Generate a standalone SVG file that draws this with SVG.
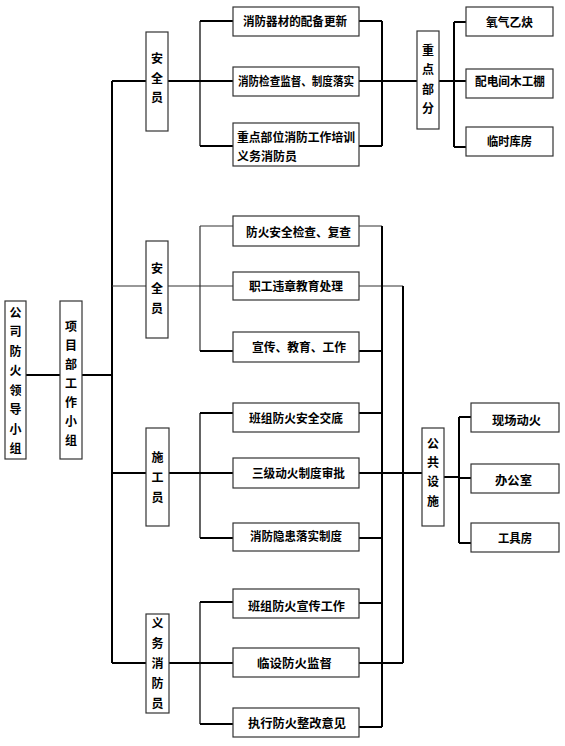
<svg xmlns="http://www.w3.org/2000/svg" width="565" height="746" viewBox="0 0 565 746">
<style>
.bx{fill:#fff;stroke:#333;stroke-width:1.2}
.tk{stroke:#000;stroke-width:2;fill:none}
.tn{stroke:#333;stroke-width:1.2;fill:none}
.tv{stroke:#111;stroke-width:1.3;fill:none}
text{font-family:"Noto Sans CJK SC","Noto Sans CJK JP",sans-serif;font-size:12px;font-weight:bold;fill:#000}
.c{text-anchor:middle}
</style>
<rect width="565" height="746" fill="#fff"/>
<g id="connectors">
<path class="tk" d="M26 375H60M82 375H112M112 81V663M112 81H146"/>
<path class="tn" d="M112 286H146M168 286H200"/>
<path class="tk" d="M112 473H146M169 473H200M112 663H146M169 663H233"/>
<path class="tv" d="M200 21V146M200 413V538M200 602V724"/>
<path class="tk" d="M168 81H233M200 21H233M200 146H233M359 21H382M359 146H382M382 21V146M359 81H417M439 81H454M454 22V147M454 22H466M454 81H466M454 147H466"/>
<path class="tn" d="M200 226V351M200 226H233M200 286H233M359 226H382M359 286H403"/>
<path class="tk" d="M200 351H233M359 351H382"/>
<path class="tk" d="M382 226V727M403 286V663"/>
<path class="tk" d="M200 413H233M200 473H233M200 538H233M359 413H382M359 538H382M359 473H422M444 477H459M459 417V543M459 417H471M459 478H471M459 543H471"/>
<path class="tk" d="M200 602H233M200 724H233M359 603H382M359 663H403M359 727H382"/>
</g>
<g id="n-company"><rect class="bx" x="5" y="301" width="21" height="158"/>
<text class="c"><tspan x="15.5" y="316.5">公</tspan><tspan x="15.5" y="336">司</tspan><tspan x="15.5" y="355.5">防</tspan><tspan x="15.5" y="375">火</tspan><tspan x="15.5" y="394.5">领</tspan><tspan x="15.5" y="414">导</tspan><tspan x="15.5" y="433.5">小</tspan><tspan x="15.5" y="453">组</tspan></text></g>
<g id="n-project"><rect class="bx" x="60" y="301" width="22" height="158"/>
<text class="c"><tspan x="71" y="330.5">项</tspan><tspan x="71" y="349.5">目</tspan><tspan x="71" y="368.5">部</tspan><tspan x="71" y="387.5">工</tspan><tspan x="71" y="406.5">作</tspan><tspan x="71" y="425.5">小</tspan><tspan x="71" y="444.5">组</tspan></text></g>
<g id="n-safety1"><rect class="bx" x="146" y="32" width="22" height="99"/>
<text class="c"><tspan x="157" y="62.5">安</tspan><tspan x="157" y="82.5">全</tspan><tspan x="157" y="102">员</tspan></text></g>
<g id="n-safety2"><rect class="bx" x="146" y="241" width="22" height="97"/>
<text class="c"><tspan x="157" y="272.5">安</tspan><tspan x="157" y="292.5">全</tspan><tspan x="157" y="312.5">员</tspan></text></g>
<g id="n-construct"><rect class="bx" x="146" y="428" width="23" height="98"/>
<text class="c"><tspan x="157.5" y="461.5">施</tspan><tspan x="157.5" y="481.5">工</tspan><tspan x="157.5" y="501.5">员</tspan></text></g>
<g id="n-volunteer"><rect class="bx" x="146" y="614" width="23" height="99"/>
<text class="c"><tspan x="157.5" y="627.5">义</tspan><tspan x="157.5" y="647.5">务</tspan><tspan x="157.5" y="667.5">消</tspan><tspan x="157.5" y="687.5">防</tspan><tspan x="157.5" y="707.5">员</tspan></text></g>
<g id="n-key"><rect class="bx" x="417" y="31" width="22" height="98"/>
<text class="c"><tspan x="428" y="54.5">重</tspan><tspan x="428" y="74">点</tspan><tspan x="428" y="93.5">部</tspan><tspan x="428" y="113">分</tspan></text></g>
<g id="n-public"><rect class="bx" x="422" y="428" width="22" height="98"/>
<text class="c"><tspan x="433" y="447.5">公</tspan><tspan x="433" y="466.5">共</tspan><tspan x="433" y="485.5">设</tspan><tspan x="433" y="505.5">施</tspan></text></g>
<g id="n-a1"><rect class="bx" x="233" y="7" width="126" height="29"/><text x="243" y="25.5" textLength="104" lengthAdjust="spacingAndGlyphs">消防器材的配备更新</text></g>
<g id="n-a2"><rect class="bx" x="233" y="67" width="126" height="29"/><text x="238" y="85.5" textLength="116" lengthAdjust="spacingAndGlyphs">消防检查监督、制度落实</text></g>
<g id="n-a3"><rect class="bx" x="233" y="123" width="126" height="43"/><text x="237" y="141.5" textLength="118" lengthAdjust="spacingAndGlyphs">重点部位消防工作培训</text><text x="237" y="160.5" textLength="60" lengthAdjust="spacingAndGlyphs">义务消防员</text></g>
<g id="n-k1"><rect class="bx" x="466" y="7" width="87" height="29"/><text x="486" y="26.5" textLength="47" lengthAdjust="spacingAndGlyphs">氧气乙炔</text></g>
<g id="n-k2"><rect class="bx" x="466" y="69" width="87" height="29"/><text x="475" y="85.5" textLength="70" lengthAdjust="spacingAndGlyphs">配电间木工棚</text></g>
<g id="n-k3"><rect class="bx" x="466" y="127" width="87" height="29"/><text x="487" y="146" textLength="45" lengthAdjust="spacingAndGlyphs">临时库房</text></g>
<g id="n-b1"><rect class="bx" x="233" y="216" width="126" height="30"/><text x="246" y="236.5" textLength="105" lengthAdjust="spacingAndGlyphs">防火安全检查、复查</text></g>
<g id="n-b2"><rect class="bx" x="233" y="272" width="126" height="28"/><text x="249" y="290.5" textLength="94" lengthAdjust="spacingAndGlyphs">职工违章教育处理</text></g>
<g id="n-b3"><rect class="bx" x="233" y="332" width="126" height="30"/><text x="252" y="351.5" textLength="94" lengthAdjust="spacingAndGlyphs">宣传、教育、工作</text></g>
<g id="n-c1"><rect class="bx" x="233" y="403" width="126" height="29"/><text x="249" y="422.5" textLength="94" lengthAdjust="spacingAndGlyphs">班组防火安全交底</text></g>
<g id="n-c2"><rect class="bx" x="233" y="458" width="126" height="30"/><text x="252" y="477.5" textLength="93" lengthAdjust="spacingAndGlyphs">三级动火制度审批</text></g>
<g id="n-c3"><rect class="bx" x="233" y="523" width="126" height="28"/><text x="250" y="540.5" textLength="92" lengthAdjust="spacingAndGlyphs">消防隐患落实制度</text></g>
<g id="n-p1"><rect class="bx" x="471" y="403" width="88" height="29"/><text x="492" y="424.5" textLength="49" lengthAdjust="spacingAndGlyphs">现场动火</text></g>
<g id="n-p2"><rect class="bx" x="471" y="464" width="88" height="29"/><text x="495" y="484.5" textLength="37" lengthAdjust="spacingAndGlyphs">办公室</text></g>
<g id="n-p3"><rect class="bx" x="471" y="523" width="88" height="29"/><text x="498" y="542.5" textLength="34" lengthAdjust="spacingAndGlyphs">工具房</text></g>
<g id="n-d1"><rect class="bx" x="233" y="589" width="126" height="29"/><text x="248" y="610.5" textLength="97" lengthAdjust="spacingAndGlyphs">班组防火宣传工作</text></g>
<g id="n-d2"><rect class="bx" x="233" y="648" width="126" height="29"/><text x="257" y="667.5" textLength="75" lengthAdjust="spacingAndGlyphs">临设防火监督</text></g>
<g id="n-d3"><rect class="bx" x="233" y="708" width="126" height="29"/><text x="248" y="727.5" textLength="98" lengthAdjust="spacingAndGlyphs">执行防火整改意见</text></g>
</svg>
